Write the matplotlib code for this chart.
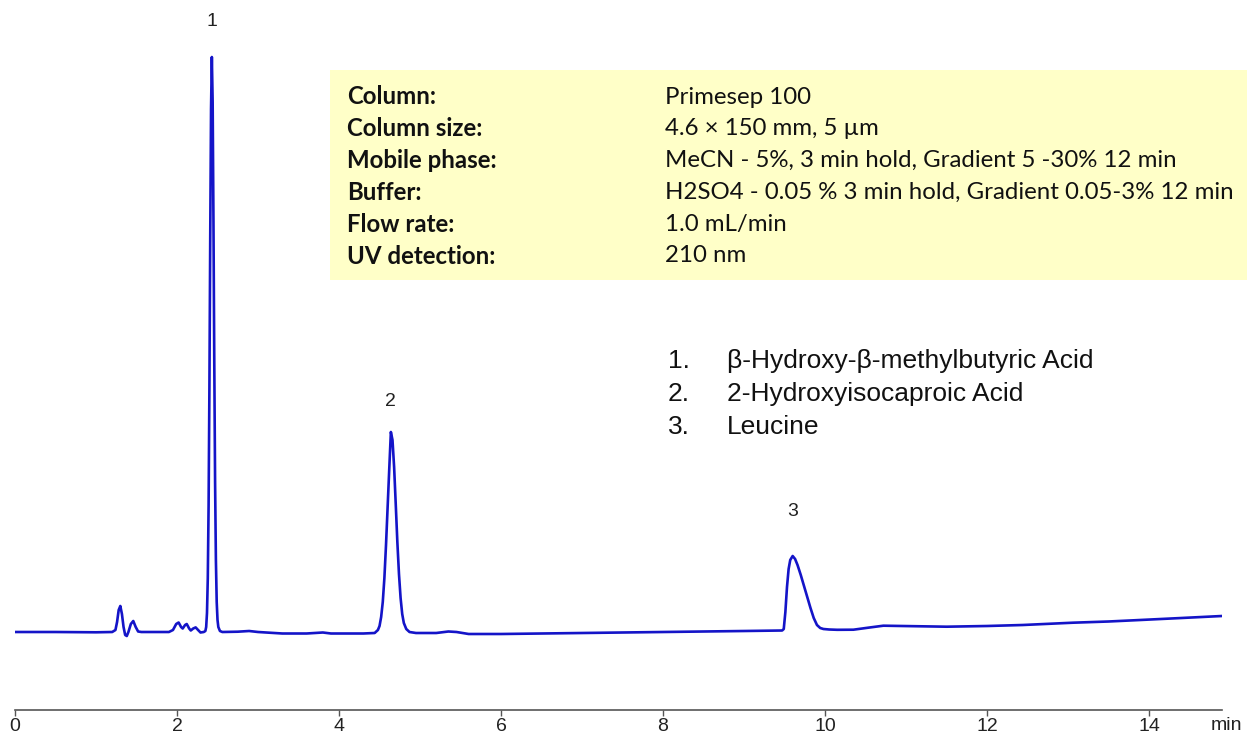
import matplotlib
matplotlib.use("Agg")
import matplotlib.pyplot as plt
from matplotlib.patches import Rectangle

# chromatogram trace (signal in arbitrary units, baseline = 0)
time_min = [
    0.00, 0.50, 1.00, 1.20, 1.24, 1.26, 1.28, 1.30, 1.32, 1.34, 1.36, 1.38,
    1.40, 1.43, 1.46, 1.49, 1.52, 1.56, 1.90, 1.95, 1.99, 2.02, 2.05, 2.07,
    2.10, 2.12, 2.15, 2.17, 2.20, 2.23, 2.26, 2.29, 2.33,
    2.35, 2.36, 2.37, 2.38, 2.39, 2.40, 2.41, 2.42, 2.43, 2.44, 2.45, 2.46,
    2.47, 2.48, 2.49, 2.50, 2.51, 2.53, 2.56,
    2.75, 2.89, 3.00, 3.30, 3.60, 3.80, 3.90, 4.30,
    4.44, 4.48, 4.50, 4.52, 4.54, 4.56, 4.58, 4.60, 4.62, 4.64, 4.66, 4.68,
    4.70, 4.72, 4.74, 4.76, 4.78, 4.80, 4.83, 4.87, 4.95,
    5.20, 5.35, 5.45, 5.60, 6.00, 7.00, 8.00, 9.00, 9.47,
    9.49, 9.51, 9.53, 9.55, 9.57, 9.60, 9.63, 9.66, 9.70, 9.74, 9.78, 9.82,
    9.86, 9.90, 9.94, 9.98, 10.05, 10.15,
    10.35, 10.55, 10.72, 10.95, 11.50, 12.00, 12.44, 13.06, 13.50, 13.89,
    14.40, 14.90,
]
signal = [
    0.0, 0.0, -0.3, 0.0, 2.0, 10.0, 22.0, 26.0, 18.0, 5.0, -3.0, -4.0,
    0.0, 8.0, 11.0, 5.0, 0.5, 0.0, 0.0, 2.0, 8.0, 9.5, 5.0, 3.5,
    7.0, 8.0, 3.5, 1.5, 3.5, 4.6, 2.0, -0.5, 0.0,
    1.0, 5.0, 19.0, 54.0, 127.0, 246.0, 394.0, 523.0, 575.0, 530.0, 410.0, 270.0,
    150.0, 72.0, 30.0, 12.0, 5.0, 1.0, 0.0,
    0.3, 1.0, 0.0, -1.5, -1.5, -0.5, -1.5, -1.5,
    -1.0, 2.0, 6.0, 15.0, 30.0, 54.0, 87.0, 125.0, 163.0, 200.0, 192.0, 165.0,
    128.0, 90.0, 58.0, 34.0, 18.0, 9.0, 3.0, 0.0, -1.0,
    -1.0, 0.5, 0.0, -2.0, -2.0, -1.0, 0.0, 1.0, 1.5,
    3.0, 20.0, 45.0, 63.0, 72.0, 76.0, 73.0, 67.0, 57.0, 46.0, 35.0, 24.0,
    14.0, 7.0, 4.0, 3.0, 2.5, 2.2,
    2.3, 4.5, 6.3, 6.0, 5.3, 6.0, 7.0, 9.3, 10.5, 12.0,
    14.0, 16.0,
]

# peak numbers and where they sit
peak_ids = ["1", "2", "3"]
peak_rt = [2.43, 4.64, 9.60]
peak_top = [575.0, 202.0, 76.0]
label_gap_px = [35, 28, 45]

compounds = ["β-Hydroxy-β-methylbutyric Acid", "2-Hydroxyisocaproic Acid", "Leucine"]

cond_names = ["Column:", "Column size:", "Mobile phase:", "Buffer:", "Flow rate:", "UV detection:"]
cond_values = [
    "Primesep 100",
    "4.6 × 150 mm, 5 µm",
    "MeCN - 5%, 3 min hold, Gradient 5 -30% 12 min",
    "H2SO4 - 0.05 % 3 min hold, Gradient 0.05-3% 12 min",
    "1.0 mL/min",
    "210 nm",
]

xticks = [0, 2, 4, 6, 8, 10, 12, 14]

W, H = 1247, 738
fig = plt.figure(figsize=(W / 100, H / 100), dpi=100)
ax = fig.add_axes([15 / W, 1 - 710 / H, (1222 - 15) / W, 710 / H])

ax.plot(time_min, signal, color="#1414c8", lw=1.9, solid_joinstyle="round")
ax.set_xlim(0, 14.9)
ax.set_ylim(-78, 632)

for s in ["left", "right", "top"]:
    ax.spines[s].set_visible(False)
ax.spines["bottom"].set_color("#555555")
ax.spines["bottom"].set_linewidth(1.2)
ax.set_yticks([])
ax.set_xticks(xticks)
ax.set_xticklabels([str(t) for t in xticks], fontsize=14, family="Liberation Sans", color="#222222")
ax.tick_params(axis="x", direction="out", length=4, width=1, color="#555555", pad=2)

fig.text(1211 / W, 1 - 730 / H, "min", fontsize=14, family="Liberation Sans",
         color="#222222", ha="left", va="baseline")

# peak numbers
for pid, rt, top, gap in zip(peak_ids, peak_rt, peak_top, label_gap_px):
    ax.annotate(pid, (rt, top), xytext=(0, gap * 0.72), textcoords="offset points",
                ha="center", va="center", fontsize=14, family="Liberation Sans", color="#222222")

# conditions box
fig.patches.append(Rectangle((330 / W, 1 - 280 / H), (1247 - 330) / W, 210 / H,
                             transform=fig.transFigure, facecolor="#ffffc8",
                             edgecolor="none", zorder=0))
for i, (n, v) in enumerate(zip(cond_names, cond_values)):
    y = 1 - (97 + i * 31.8) / H
    fig.text(347 / W, y, n, fontsize=17.3, family="Lato", weight="bold",
             color="#111111", va="center")
    fig.text(665 / W, y, v, fontsize=17.3, family="Lato", color="#111111", va="center")

# compound list
for i, c in enumerate(compounds):
    y = 1 - (361 + i * 33) / H
    fig.text(668 / W, y, f"{i + 1}.", fontsize=19, family="Liberation Sans",
             color="#111111", va="center")
    fig.text(727 / W, y, c, fontsize=19, family="Liberation Sans",
             color="#111111", va="center")

fig.savefig("out.png", dpi=100)
